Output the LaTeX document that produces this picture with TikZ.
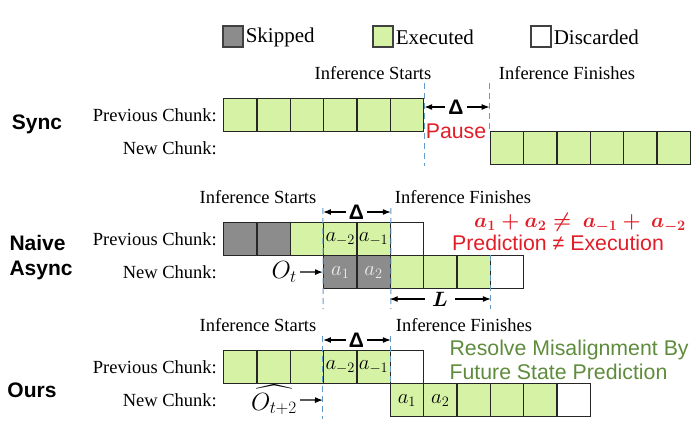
\documentclass[tikz,border=0pt]{standalone}
\usepackage{amsmath}
\usepackage[no-math]{fontspec}
\setmainfont{Liberation Serif}
\setsansfont{Liberation Sans}
\usetikzlibrary{arrows.meta}

\definecolor{execgreen}{RGB}{213,242,165}
\definecolor{skipgray}{RGB}{140,140,140}
\definecolor{lightmark}{RGB}{236,236,236}
\definecolor{guideblue}{RGB}{100,155,205}
\definecolor{warnred}{RGB}{225,30,40}
\definecolor{fixgreen}{RGB}{95,140,60}

\tikzset{
  cell/.style={draw=black!85, line width=1.2pt, minimum width=33.33pt, minimum height=33pt,
    inner sep=0pt, anchor=north west, font=\fontsize{21}{21}\selectfont},
  swatch/.style={draw=black!75, line width=1.2pt, minimum width=20pt, minimum height=21pt, inner sep=0pt},
  txt/.style={font=\fontsize{18.5}{20}\selectfont, inner sep=1pt},
  legend/.style={font=\fontsize{21}{24}\selectfont, inner sep=2pt, anchor=west},
  rowtitle/.style={font=\fontsize{21}{25}\sffamily\bfseries\selectfont, align=left},
  note/.style={font=\fontsize{21.3}{24}\sffamily\selectfont},
  gapmark/.style={font=\fontsize{21}{21}\sffamily\bfseries\selectfont, inner sep=3pt},
  obsmark/.style={font=\fontsize{23}{23}\selectfont, anchor=east, inner sep=3pt},
  guide/.style={draw=guideblue, line width=1pt, dash pattern=on 6pt off 4pt},
  span/.style={-{Latex[length=8pt,width=6pt]}, line width=1.2pt},
}

\begin{document}
\begin{tikzpicture}[x=1pt,y=-1pt]
\useasboundingbox (0,0) rectangle (700,433);

% legend
\node[swatch, fill=skipgray] (kskip) at (233,36.5) {};
\node[legend] (tskip) at ([yshift=-1pt]kskip.east) {Skipped};
\node[swatch, fill=execgreen] (kexec) at (383,36.5) {};
\node[legend] (texec) at ([yshift=-1pt]kexec.east) {Executed};
\node[swatch, fill=white] (kdisc) at (541,36.5) {};
\node[legend] (tdisc) at ([yshift=-1pt]kdisc.east) {Discarded};

% sync
\node[rowtitle] (sync) at (37,124) {Sync};
\foreach \i in {0,...,5} \node[cell, fill=execgreen] (sp\i) at (223+\i*33.33,98) {};
\foreach \i in {0,...,5} \node[cell, fill=execgreen] (sn\i) at (489.67+\i*33.33,131) {};
\node[txt, anchor=east] (sprev) at ([xshift=-5pt]sp0.west) {Previous Chunk:};
\node[txt, anchor=east] (snew) at (sprev.east |- sn0.west) {New Chunk:};
\node[txt] (sstart) at (373,73) {Inference Starts};
\node[txt] (send) at (567,73) {Inference Finishes};
\draw[guide] ([yshift=15pt]sp5.north east) -- ([yshift=-34pt]sp5.south east);
\draw[guide] ([yshift=48pt]sn0.north west) -- (sn0.north west);
\node[gapmark] (sdelta) at (456,107) {Δ};
\draw[span] (sdelta.west) -- (sp5.east |- sdelta);
\draw[span] (sdelta.east) -- (sn0.west |- sdelta);
\node[note, text=warnred] (pause) at (456,131) {Pause};

% naive async
\node[rowtitle, anchor=west] (naive) at (6,257.5) {Naive\\Async};
\foreach \c/\t [count=\i from 0] in {skipgray/,skipgray/,execgreen/,execgreen/$a_{-2}$,execgreen/$a_{-1}$,white/}
  \node[cell, fill=\c] (np\i) at (223+\i*33.33,222) {\t};
\foreach \c/\t [count=\i from 0] in {skipgray/\textcolor{lightmark}{$a_1$},skipgray/\textcolor{lightmark}{$a_2$},execgreen/,execgreen/,execgreen/,white/}
  \node[cell, fill=\c] (nn\i) at (323+\i*33.33,255) {\t};
\node[txt, anchor=east] (nprev) at ([xshift=-5pt]np0.west) {Previous Chunk:};
\node[txt, anchor=east] (nnew) at (nprev.east |- nn0.west) {New Chunk:};
\node[txt] (nstart) at (258,197) {Inference Starts};
\node[txt] (nend) at (463,197) {Inference Finishes};
\draw[guide] ([yshift=14pt]np3.north west) -- ([yshift=-20pt]nn0.south west);
\draw[guide] ([yshift=14pt]np4.north east) -- ([yshift=-20pt]nn1.south east);
\draw[guide] (nn4.north east) -- ([yshift=-20pt]nn4.south east);
\node[gapmark] (ndelta) at (356.5,212) {Δ};
\draw[span] (ndelta.west) -- (np3.west |- ndelta);
\draw[span] (ndelta.east) -- (np4.east |- ndelta);
\node[font=\fontsize{21}{21}\selectfont, inner sep=7pt] (nlen) at (440,299) {$\boldsymbol{L}$};
\draw[span] (nlen.west) -- (nn2.west |- nlen);
\draw[span] (nlen.east) -- (nn4.east |- nlen);
\node[obsmark] (obs) at (300,272) {$O_t$};
\draw[span] (obs.east) -- (nn0.west);
\node[text=warnred, font=\fontsize{20}{20}\selectfont\boldmath] (neq) at (580,223) {$a_1 + a_2 \neq\ a_{-1} +\ a_{-2}$};
\node[note, text=warnred] (mismatch) at (558,243) {Prediction ≠ Execution};

% ours
\node[rowtitle] (ours) at (32,390) {Ours};
\foreach \c/\t [count=\i from 0] in {execgreen/,execgreen/,execgreen/,execgreen/$a_{-2}$,execgreen/$a_{-1}$,white/}
  \node[cell, fill=\c] (op\i) at (223+\i*33.33,350) {\t};
\foreach \c/\t [count=\i from 0] in {execgreen/$a_1$,execgreen/$a_2$,execgreen/,execgreen/,execgreen/,white/}
  \node[cell, fill=\c] (on\i) at (389.67+\i*33.33,383) {\t};
\node[txt, anchor=east] (oprev) at ([xshift=-5pt]op0.west) {Previous Chunk:};
\node[txt, anchor=east] (onew) at (oprev.east |- on0.west) {New Chunk:};
\node[txt] (ostart) at (258,325) {Inference Starts};
\node[txt] (oend) at (464,325) {Inference Finishes};
\draw[guide] ([yshift=14pt]op3.north west) -- ([yshift=-35pt]op3.south west);
\draw[guide] ([yshift=14pt]op4.north east) -- (op4.south east);
\node[gapmark] (odelta) at (356.5,340) {Δ};
\draw[span] (odelta.west) -- (op3.west |- odelta);
\draw[span] (odelta.east) -- (op4.east |- odelta);
\node[obsmark] (obsf) at (300,400) {$\widehat{O_{t+2}}$};
\draw[span] (obsf.east) -- (op3.south west |- on0.west);
\node[note, text=fixgreen, align=left, anchor=west] (fix) at (446,360) {Resolve Misalignment By\\Future State Prediction};
\end{tikzpicture}
\end{document}
